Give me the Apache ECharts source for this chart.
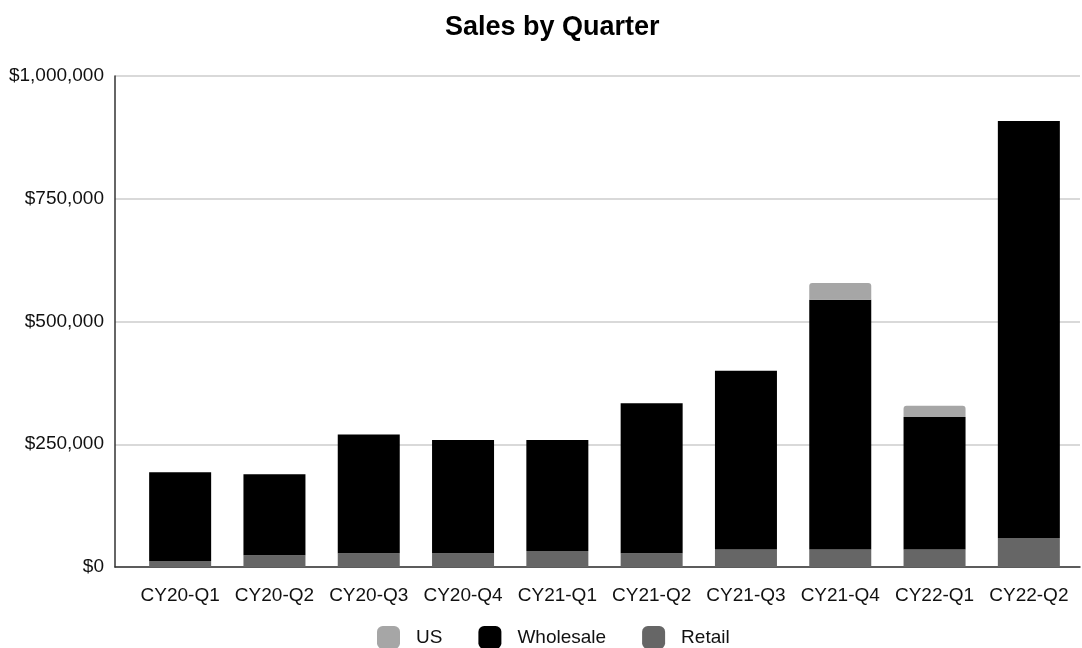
<!DOCTYPE html>
<html lang="en">
  <head>
    <meta charset="UTF-8" />
    <title>Sales by Quarter</title>
    <script src="https://cdn.jsdelivr.net/npm/echarts@6.0.0/dist/echarts.min.js"></script>
    <style>
      body {
        margin: 0;
        background-color: #ffffff;
      }
      #main {
        width: 1082px;
        height: 648px;
      }
    </style>
  </head>
  <body>
    <div id="main"></div>
    <script>
      // quarters on the x axis
      const quarters = ["CY20-Q1", "CY20-Q2", "CY20-Q3", "CY20-Q4", "CY21-Q1", "CY21-Q2", "CY21-Q3", "CY21-Q4", "CY22-Q1", "CY22-Q2"];

      // stacked values (bottom to top)
      const retail = [12000, 24000, 28000, 28000, 32500, 28000, 35500, 35500, 35500, 59000];
      const wholesale = [181000, 165000, 242000, 230500, 226000, 305500, 364000, 509000, 270000, 849500];
      const us = [0, 0, 0, 0, 0, 0, 0, 34000, 23000, 0];

      const yTicks = { min: 0, max: 1000000, interval: 250000 };

      const font = "Liberation Sans, Arial, sans-serif";

      const chart = echarts.init(document.getElementById("main"));

      const option = {
        animation: false,
        title: {
          text: "Sales by Quarter",
          left: 440,
          top: 9,
          textStyle: {
            fontFamily: font,
            fontSize: 27,
            fontWeight: "bold",
            color: "#000",
          },
        },
        legend: {
          data: ["US", "Wholesale", "Retail"],
          top: 621,
          left: 372,
          itemWidth: 23,
          itemHeight: 23,
          itemGap: 36,
          icon: "roundRect",
          textStyle: {
            fontFamily: font,
            fontSize: 19,
            color: "#111",
            padding: [0, 0, 0, 11],
          },
        },
        // grid 0 holds the bars, grid 1 draws the frame and gridlines a bit wider
        grid: [
          { left: 133, right: 6, top: 76, bottom: 81 },
          { left: 115, right: 2, top: 76, bottom: 81 },
        ],
        xAxis: [
          {
            type: "category",
            gridIndex: 0,
            data: quarters,
            axisTick: { show: false },
            axisLine: { show: false },
            axisLabel: {
              fontFamily: font,
              fontSize: 19,
              color: "#111",
              margin: 19,
              interval: 0,
            },
          },
          {
            type: "category",
            gridIndex: 1,
            data: quarters,
            axisTick: { show: false },
            axisLabel: { show: false },
            axisLine: { lineStyle: { color: "#333", width: 1.5 } },
          },
        ],
        yAxis: [
          {
            type: "value",
            gridIndex: 0,
            min: yTicks.min,
            max: yTicks.max,
            interval: yTicks.interval,
            axisLine: { show: false },
            axisTick: { show: false },
            axisLabel: { show: false },
            splitLine: { show: false },
          },
          {
            type: "value",
            gridIndex: 1,
            min: yTicks.min,
            max: yTicks.max,
            interval: yTicks.interval,
            axisLine: { show: true, lineStyle: { color: "#333", width: 1.5 } },
            axisTick: { show: false },
            splitLine: { lineStyle: { color: "#cccccc", width: 1.5 } },
            axisLabel: {
              fontFamily: font,
              fontSize: 19,
              color: "#111",
              margin: 11,
              formatter: (v) => "$" + v.toLocaleString("en-US"),
            },
          },
        ],
        series: [
          {
            name: "Retail",
            type: "bar",
            stack: "sales",
            barWidth: 62,
            z: 3,
            itemStyle: { color: "#666666" },
            data: retail,
          },
          {
            name: "Wholesale",
            type: "bar",
            stack: "sales",
            barWidth: 62,
            z: 3,
            itemStyle: { color: "#000000" },
            data: wholesale,
          },
          {
            name: "US",
            type: "bar",
            stack: "sales",
            barWidth: 62,
            z: 3,
            itemStyle: { color: "#a6a6a6", borderRadius: [3, 3, 0, 0] },
            data: us,
          },
        ],
      };

      chart.setOption(option);
    </script>
  </body>
</html>
